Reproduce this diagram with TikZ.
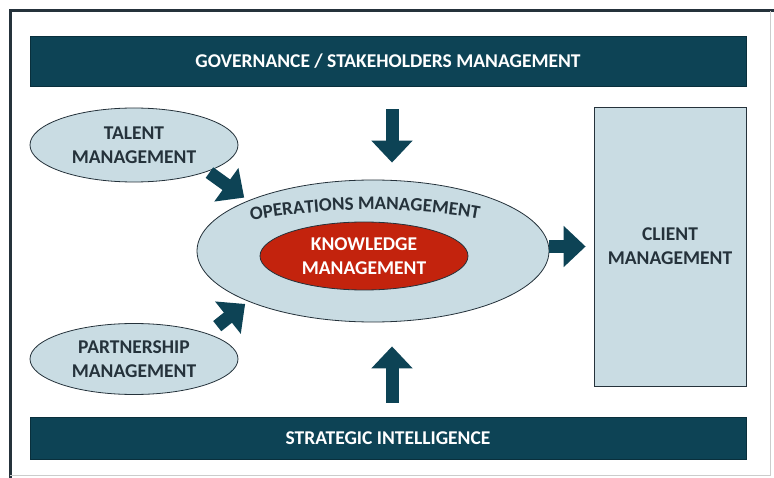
\documentclass[tikz,border=0pt]{standalone}
\usepackage{fontspec}
\setmainfont{Carlito}
\usepackage{tikz}
\usetikzlibrary{arrows.meta}
\usetikzlibrary{shapes.geometric}
\usetikzlibrary{decorations.text}

\definecolor{barteal}{HTML}{0D4355}
\definecolor{paleblue}{HTML}{C9DCE3}
\definecolor{kmred}{HTML}{C3230D}
\definecolor{inkgrey}{HTML}{25323B}

\newcommand{\labelfont}{\bfseries\fontsize{19.5}{24}\selectfont}

\tikzset{
  bar/.style={fill=barteal, draw=barteal!70!black, minimum width=716pt, text=white,
    font=\labelfont, inner sep=0pt},
  blob/.style={ellipse, fill=paleblue, draw=inkgrey, thick, inner sep=0pt, text=inkgrey,
    align=center, font=\labelfont},
  bigarrow/.style={draw=barteal, line width=13pt, -{Triangle[width=40pt,length=22pt]}}
}

\begin{document}
\begin{tikzpicture}[x=1pt, y=-1pt]
    \useasboundingbox (0,0) rectangle (774,478);
    \fill[white] (0,0) rectangle (774,478);
    % frame
    \draw[line width=3pt, inkgrey] (10,478) -- (10,11) -- (774,11);
    \draw[line width=1pt, black!20] (770,11) -- (770,475) -- (10,475);

    \node[bar, minimum height=50pt] (gov) at (388,61) {GOVERNANCE / STAKEHOLDERS MANAGEMENT};
    \node[bar, minimum height=42pt] (strat) at (388,438) {STRATEGIC INTELLIGENCE};

    \node[blob, minimum width=208pt, minimum height=74pt] (talent) at (134,145) {TALENT\\MANAGEMENT};
    \node[blob, minimum width=208pt, minimum height=71pt] (partner) at (134,359) {PARTNERSHIP\\MANAGEMENT};
    \node[blob, minimum width=352pt, minimum height=142pt] (ops) at (373,251) {};
    \node[ellipse, fill=kmred, draw=inkgrey, thick, text=white, align=center, inner sep=0pt,
      font=\labelfont, minimum width=208pt, minimum height=68pt]
      (know) at (364,256) {KNOWLEDGE\\MANAGEMENT};
    \node[draw=inkgrey, thick, fill=paleblue, text=inkgrey, align=center, inner sep=0pt,
      font=\labelfont, minimum width=152pt, minimum height=279pt]
      (client) at (670,246.5) {CLIENT\\MANAGEMENT};

    \path[decorate, decoration={text along path, text align=center,
      text format delimiters={|}{|},
      text={|\bfseries\fontsize{19}{24}\selectfont\color{inkgrey}|OPERATIONS MANAGEMENT}}]
      (244,222) .. controls (320,207) and (410,205) .. (486,220);

    % arrows into the centre
    \draw[bigarrow, shorten <=23pt, shorten >=17pt] ([xshift=4pt]gov.south) -- ([xshift=4pt]gov.south |- ops.north);
    \draw[bigarrow, shorten <=14pt, shorten >=24pt] ([xshift=4pt]strat.north) -- ([xshift=4pt]strat.north |- ops.south);
    \draw[bigarrow, shorten <=2pt, shorten >=5pt] (talent.south east) -- (ops.north west);
    \draw[bigarrow, shorten <=12pt, shorten >=4pt] (partner.north east) -- (ops.south west);
    \draw[bigarrow, shorten >=8pt] (ops.east |- client.west) -- (client.west);
\end{tikzpicture}
\end{document}
